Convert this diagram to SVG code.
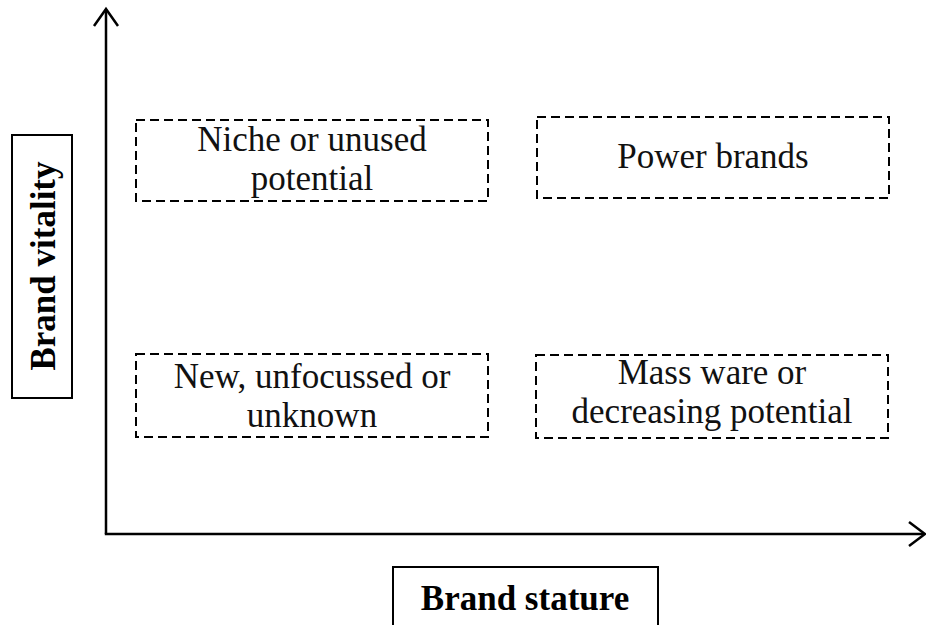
<svg xmlns="http://www.w3.org/2000/svg" width="926" height="625" viewBox="0 0 926 625">
<defs>
<style>
.q{fill:none;stroke:#000;stroke-width:2;stroke-dasharray:9 5}
.t{font-family:"Liberation Serif","Times New Roman",serif;font-size:35px;fill:#111;text-anchor:middle}
.b{font-family:"Liberation Serif","Times New Roman",serif;font-size:35px;font-weight:bold;fill:#000;text-anchor:middle}
.lb{fill:#fff;stroke:#000;stroke-width:2}
.ax{fill:none;stroke:#000;stroke-width:2.5}
</style>
</defs>
<rect width="926" height="625" fill="#fff"/>
<g id="connectors">
<path class="ax" d="M106,534 L106,10"/>
<path class="ax" d="M94,26 L106,9 L118,26"/>
<path class="ax" d="M104.8,534 L924,534"/>
<path class="ax" d="M909,522 L925,534 L909,546"/>
</g>
<g id="y-label">
<rect class="lb" x="12" y="135" width="60" height="263"/>
<text class="b" transform="translate(55,266) rotate(-90)">Brand vitality</text>
</g>
<g id="x-label">
<rect class="lb" x="393" y="567" width="265" height="70"/>
<text class="b" x="525" y="610">Brand stature</text>
</g>
<g id="niche">
<rect class="q" x="136" y="120" width="352" height="81"/>
<text class="t" x="312" y="151">Niche or unused</text>
<text class="t" x="312" y="190">potential</text>
</g>
<g id="power">
<rect class="q" x="537" y="117" width="352" height="81"/>
<text class="t" x="713" y="168">Power brands</text>
</g>
<g id="new">
<rect class="q" x="136" y="354" width="352" height="83"/>
<text class="t" x="312" y="388">New, unfocussed or</text>
<text class="t" x="312" y="427">unknown</text>
</g>
<g id="mass">
<rect class="q" x="536" y="355" width="352" height="83"/>
<text class="t" x="712" y="384">Mass ware or</text>
<text class="t" x="712" y="423">decreasing potential</text>
</g>
</svg>
